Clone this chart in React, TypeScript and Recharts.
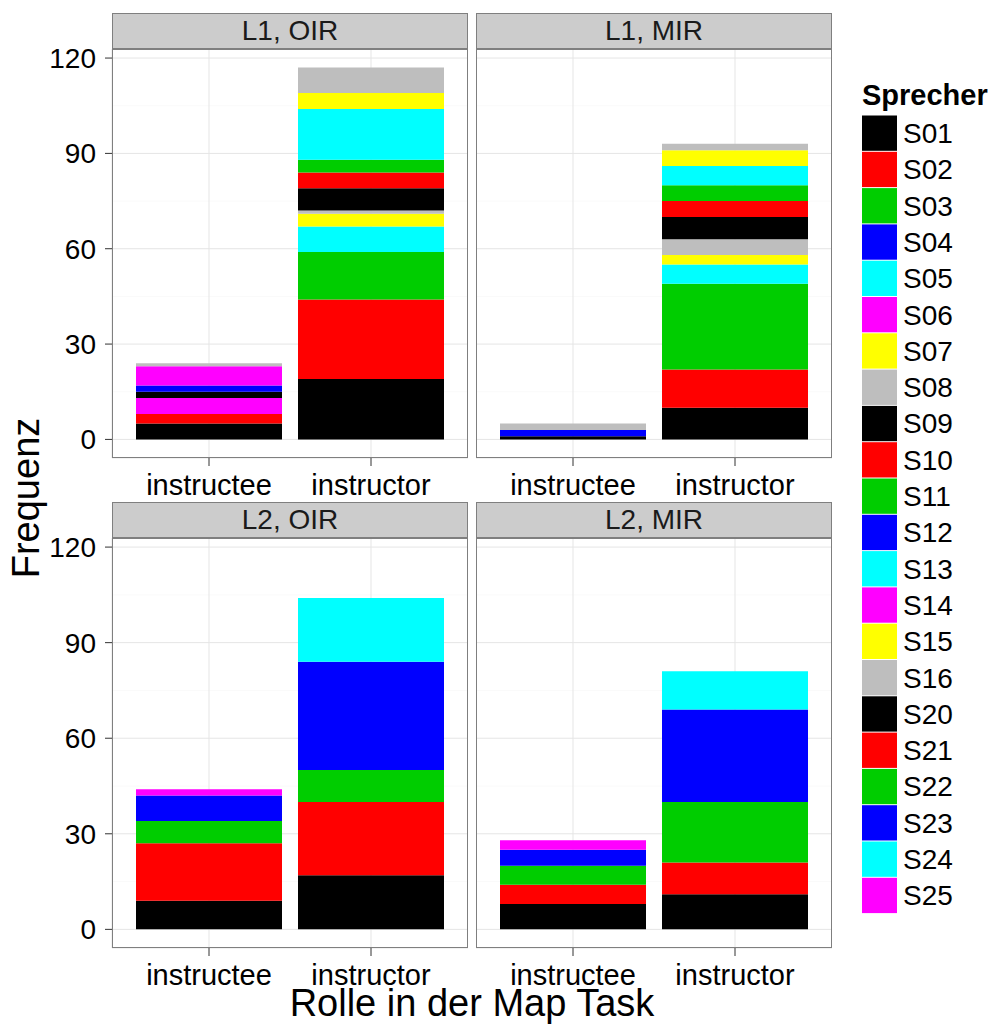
import React from "react";
import { BarChart, Bar, XAxis, YAxis, CartesianGrid } from "recharts";

const FONT = '"Liberation Sans", Arial, Helvetica, sans-serif';

// speakers per language group, bottom-to-top stacking order
const L1_SPEAKERS = ["S01", "S02", "S03", "S04", "S05", "S06", "S07", "S08", "S09", "S10", "S11", "S12", "S13", "S14", "S15", "S16"];
const L2_SPEAKERS = ["S20", "S21", "S22", "S23", "S24", "S25"];
const L1_COLORS = ["#000000", "#FF0000", "#00CD00", "#0000FF", "#00FFFF", "#FF00FF", "#FFFF00", "#BEBEBE", "#000000", "#FF0000", "#00CD00", "#0000FF", "#00FFFF", "#FF00FF", "#FFFF00", "#BEBEBE"];
const L2_COLORS = ["#000000", "#FF0000", "#00CD00", "#0000FF", "#00FFFF", "#FF00FF"];

const ROLES = ["instructee", "instructor"];

// frequencies, one value per speaker (same order as the speaker arrays)
const l1OirInstructee = [5, 3, 0, 0, 0, 5, 0, 0, 2, 0, 0, 2, 0, 6, 0, 1];
const l1OirInstructor = [19, 25, 15, 0, 8, 0, 4, 1, 7, 5, 4, 0, 16, 0, 5, 8];
const l1MirInstructee = [1, 0, 0, 2, 0, 0, 0, 2, 0, 0, 0, 0, 0, 0, 0, 0];
const l1MirInstructor = [10, 12, 27, 0, 6, 0, 3, 5, 7, 5, 5, 0, 6, 0, 5, 2];
const l2OirInstructee = [9, 18, 7, 8, 0, 2];
const l2OirInstructor = [17, 23, 10, 34, 20, 0];
const l2MirInstructee = [8, 6, 6, 5, 0, 3];
const l2MirInstructor = [11, 10, 19, 29, 12, 0];

const Y_TICKS = [0, 30, 60, 90, 120];
const Y_MINOR = [15, 45, 75, 105];
const Y_DOMAIN = [-5.85, 122.85];

const buildRows = (speakers: string[], values: number[][]) =>
  ROLES.map((role, i) => {
    const row: Record<string, any> = { role };
    speakers.forEach((s, j) => {
      row[s] = values[i][j];
    });
    return row;
  });

interface PanelProps {
  title: string;
  left: number;
  stripTop: number;
  plotTop: number;
  plotH: number;
  speakers: string[];
  colors: string[];
  values: number[][];
  showY: boolean;
}

const PLOT_W = 356;
const Y_AXIS_W = 112;
const X_AXIS_H = 45;
const TOP_PAD = 20; // room so the top tick label is not pushed down

const Panel: React.FC<PanelProps> = ({ title, left, stripTop, plotTop, plotH, speakers, colors, values, showY }) => {
  const data = buildRows(speakers, values);
  const chartLeft = showY ? left - Y_AXIS_W : left;
  const chartW = showY ? PLOT_W + Y_AXIS_W : PLOT_W;

  return (
    <>
      <div style={{ position: "absolute", left: chartLeft, top: plotTop - TOP_PAD }}>
        <BarChart
          width={chartW}
          height={plotH + X_AXIS_H + TOP_PAD}
          data={data}
          margin={{ top: TOP_PAD, right: 0, bottom: 0, left: 0 }}
          barSize={146}
        >
          <CartesianGrid horizontalValues={Y_MINOR} vertical={false} stroke="#FAFAFA" strokeWidth={1} />
          <CartesianGrid stroke="#E5E5E5" strokeWidth={1} />
          <XAxis
            dataKey="role"
            type="category"
            padding={{ left: 16, right: 16 }}
            interval={0}
            height={X_AXIS_H}
            axisLine={false}
            tickSize={8}
            tickMargin={8}
            tickLine={{ stroke: "#333333" }}
            tick={{ fontSize: 29, fill: "#000000", fontFamily: FONT }}
          />
          <YAxis
            type="number"
            domain={Y_DOMAIN}
            allowDataOverflow
            ticks={Y_TICKS}
            hide={!showY}
            width={showY ? Y_AXIS_W : 0}
            axisLine={false}
            tickSize={7}
            tickMargin={9}
            tickLine={{ stroke: "#333333" }}
            tick={{ fontSize: 28, fill: "#000000", fontFamily: FONT }}
          />
          {speakers.map((s, i) => (
            <Bar key={s} dataKey={s} stackId="a" fill={colors[i]} isAnimationActive={false} />
          ))}
        </BarChart>
      </div>
      <div
        style={{
          position: "absolute",
          left,
          top: stripTop,
          width: PLOT_W,
          height: plotTop - stripTop,
          boxSizing: "border-box",
          background: "#CCCCCC",
          border: "1px solid #7F7F7F",
          fontSize: 28,
          lineHeight: `${plotTop - stripTop - 2}px`,
          textAlign: "center",
          color: "#1A1A1A",
        }}
      >
        {title}
      </div>
      <div
        style={{
          position: "absolute",
          left,
          top: plotTop,
          width: PLOT_W,
          height: plotH,
          boxSizing: "border-box",
          border: "1px solid #7F7F7F",
          pointerEvents: "none",
        }}
      />
    </>
  );
};

const LEGEND_SPEAKERS = [...L1_SPEAKERS, ...L2_SPEAKERS];
const LEGEND_COLORS = [...L1_COLORS, ...L2_COLORS];

const Legend: React.FC = () => (
  <svg style={{ position: "absolute", left: 850, top: 70 }} width={142} height={860}>
    <text x={12} y={35} fontSize={29} fontWeight="bold" fontFamily={FONT} fill="#000">
      Sprecher
    </text>
    {LEGEND_SPEAKERS.map((s, i) => (
      <g key={s}>
        <rect x={12} y={45 + i * 36.3 + 0.5} width={35} height={35.3} fill={LEGEND_COLORS[i]} />
        <text x={53} y={45 + i * 36.3 + 18} dy="0.36em" fontSize={28} fontFamily={FONT} fill="#000">
          {s}
        </text>
      </g>
    ))}
  </svg>
);

export default function App() {
  return (
    <div style={{ position: "relative", width: 992, height: 1024, background: "#fff", fontFamily: FONT, overflow: "hidden" }}>
      <style>{"body{margin:0}"}</style>
      <Panel title="L1, OIR" left={112} stripTop={13} plotTop={49} plotH={409} speakers={L1_SPEAKERS} colors={L1_COLORS} values={[l1OirInstructee, l1OirInstructor]} showY />
      <Panel title="L1, MIR" left={476} stripTop={13} plotTop={49} plotH={409} speakers={L1_SPEAKERS} colors={L1_COLORS} values={[l1MirInstructee, l1MirInstructor]} showY={false} />
      <Panel title="L2, OIR" left={112} stripTop={502} plotTop={538} plotH={410} speakers={L2_SPEAKERS} colors={L2_COLORS} values={[l2OirInstructee, l2OirInstructor]} showY />
      <Panel title="L2, MIR" left={476} stripTop={502} plotTop={538} plotH={410} speakers={L2_SPEAKERS} colors={L2_COLORS} values={[l2MirInstructee, l2MirInstructor]} showY={false} />
      <svg style={{ position: "absolute", left: 0, top: 0 }} width={992} height={1024} pointerEvents="none">
        <text x={39} y={498} transform="rotate(-90 39 498)" textAnchor="middle" fontSize={38} fontFamily={FONT} fill="#000">
          Frequenz
        </text>
        <text x={472} y={1016} textAnchor="middle" fontSize={38} fontFamily={FONT} fill="#000">
          Rolle in der Map Task
        </text>
      </svg>
      <Legend />
    </div>
  );
}
